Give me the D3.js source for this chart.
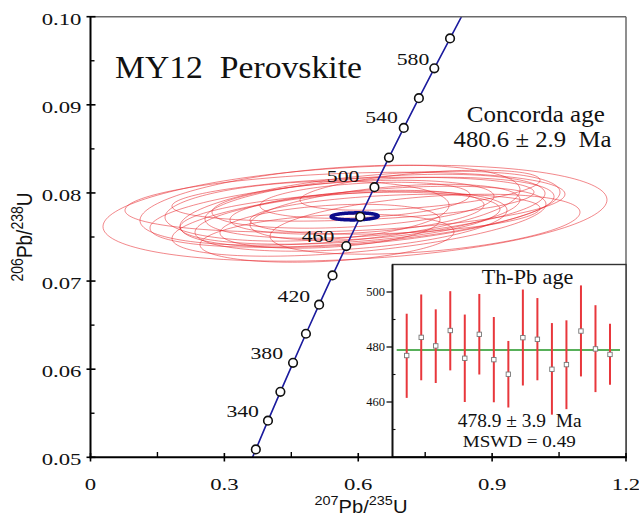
<!DOCTYPE html>
<html><head><meta charset="utf-8">
<script src="https://cdn.jsdelivr.net/npm/d3@7"></script>
<style>body{margin:0;background:#fff} text{white-space:pre}</style>
</head><body><svg id="c" width="639" height="515"></svg>
<script>
// ---------- data ----------
const xTicks = [0, 0.3, 0.6, 0.9, 1.2];
const xTickLabels = ["0", "0.3", "0.6", "0.9", "1.2"];
const xMinorTicks = [0.15, 0.45, 0.75, 1.05];
const yTicks = [0.05, 0.06, 0.07, 0.08, 0.09, 0.10];
const yTickLabels = ["0.05", "0.06", "0.07", "0.08", "0.09", "0.10"];
const yMinorTicks = [0.055, 0.065, 0.075, 0.085, 0.095];

// concordia curve (age in Ma, 207Pb/235U, 206Pb/238U)
const curveAges = [314.5, 320, 340, 360, 380, 400, 420, 440, 460, 480, 500, 520, 540, 560, 580, 600, 614.4];
const curveX = [0.3631, 0.3705, 0.3977, 0.4255, 0.4539, 0.4828, 0.5123, 0.5424, 0.5731, 0.6044, 0.6363, 0.6688, 0.7020, 0.7359, 0.7704, 0.8057, 0.8314];
const curveY = [0.0500, 0.05089, 0.05416, 0.05743, 0.06072, 0.06402, 0.06732, 0.07064, 0.07397, 0.07730, 0.08065, 0.08401, 0.08738, 0.09075, 0.09414, 0.09754, 0.1000];
const markerAges = [320, 340, 360, 380, 400, 420, 440, 460, 480, 500, 520, 540, 560, 580, 600];
const labelAges = [340, 380, 420, 460, 500, 540, 580];

// analysis error ellipses (centre, half-extent in x and y, correlation)
const ellCX = [0.5927, 0.5703, 0.5860, 0.6017, 0.5882, 0.6263, 0.5838, 0.5882, 0.5972, 0.6599, 0.4852, 0.6151, 0.7496, 0.5300, 0.7384, 0.5367, 0.5591, 0.6375, 0.5367, 0.6824];
const ellCY = [0.07770, 0.07895, 0.07781, 0.07679, 0.07929, 0.07815, 0.07679, 0.07872, 0.07781, 0.07781, 0.07793, 0.07917, 0.07645, 0.07486, 0.08031, 0.07861, 0.07713, 0.07849, 0.07622, 0.07759];
const ellSX = [0.5647, 0.4930, 0.4527, 0.4190, 0.4056, 0.4258, 0.3496, 0.3160, 0.2846, 0.3025, 0.3182, 0.2353, 0.3473, 0.2846, 0.2689, 0.4258, 0.3585, 0.3810, 0.2465, 0.3249];
const ellSY = [0.00544, 0.00340, 0.00397, 0.00397, 0.00249, 0.00431, 0.00340, 0.00272, 0.00249, 0.00317, 0.00340, 0.00204, 0.00340, 0.00272, 0.00227, 0.00454, 0.00295, 0.00363, 0.00249, 0.00227];
const ellRho = [0.28, 0.27, 0.45, 0.49, 0.32, 0.45, 0.37, 0.33, 0.34, 0.45, 0.20, 0.30, 0.40, 0.27, 0.50, 0.38, 0.35, 0.40, 0.30, 0.30];

// concordia age ellipse
const concAgeCX = [0.592];
const concAgeCY = [0.07734];
const concAgeSX = [0.0527];
const concAgeSY = [0.00040];
const concAgeRho = [0.1];

// Th-Pb ages (inset)
const thpbAge  = [476.9, 483.5, 480.4, 486.0, 475.9, 484.6, 475.4, 470.1, 483.4, 482.8, 471.9, 473.6, 485.8, 479.3, 477.3];
const thpbLow  = [461.5, 467.9, 466.9, 471.5, 460.0, 470.0, 459.9, 458.0, 466.0, 467.9, 455.4, 457.4, 469.3, 463.6, 466.3];
const thpbHigh = [492.1, 499.1, 493.7, 500.3, 491.8, 499.3, 490.9, 482.2, 500.9, 497.8, 488.7, 489.7, 502.4, 495.2, 488.5];
const thpbMean = 478.9;
const insetTicks = [460, 480, 500];
const insetMinor = [450, 470, 490];

// ---------- drawing ----------
const SERIF = "'Liberation Serif','Times New Roman',Times,serif";
const SANS = "'Liberation Sans',Arial,Helvetica,sans-serif";
const svg = d3.select('#c');
svg.append('rect').attr('width', 639).attr('height', 515).attr('fill', '#fff');

const x = d3.scaleLinear().domain([0, 1.2]).range([90.5, 626]);
const y = d3.scaleLinear().domain([0.05, 0.10]).range([457.3, 16.7]);

function addText(parent, str, px, py, o) {
  const t = parent.append('text').attr('x', 0).attr('y', 0)
    .attr('font-family', o.family || SERIF).attr('font-size', o.size)
    .attr('text-anchor', o.anchor || 'start').attr('fill', o.fill || '#111').text(str);
  let sx = o.sx || 1;
  if (o.width) sx = o.width / t.node().getComputedTextLength();
  t.attr('transform', `translate(${px},${py}) scale(${sx},1)`);
  return t;
}

svg.append('clipPath').attr('id', 'plotclip').append('rect')
  .attr('x', 90.5).attr('y', 16.7).attr('width', 626 - 90.5).attr('height', 457.3 - 16.7);
const plot = svg.append('g').attr('clip-path', 'url(#plotclip)');

function ellipsePts(cx, cy, sx, sy, rho) {
  const pts = [];
  const k = Math.sqrt(1 - rho * rho);
  for (let i = 0; i < 160; i++) {
    const t = i / 160 * 2 * Math.PI;
    pts.push([x(cx + sx * Math.cos(t)), y(cy + sy * (rho * Math.cos(t) + k * Math.sin(t)))]);
  }
  return pts;
}
const closed = d3.line().curve(d3.curveLinearClosed);

// red ellipses
ellCX.forEach((cx, i) => {
  plot.append('path').attr('d', closed(ellipsePts(cx, ellCY[i], ellSX[i], ellSY[i], ellRho[i])))
    .attr('fill', 'none').attr('stroke', '#e8262c').attr('stroke-opacity', 0.55).attr('stroke-width', 1);
});

// concordia age ellipse
plot.append('path').attr('d', closed(ellipsePts(concAgeCX[0], concAgeCY[0], concAgeSX[0], concAgeSY[0], concAgeRho[0])))
  .attr('fill', 'none').attr('stroke', '#0c0c8c').attr('stroke-width', 3.5);

// concordia line
const line = d3.line().x(d => x(d[0])).y(d => y(d[1])).curve(d3.curveMonotoneX);
plot.append('path').attr('d', line(curveX.map((v, i) => [v, curveY[i]])))
  .attr('fill', 'none').attr('stroke', '#1b1b9e').attr('stroke-width', 1.6);

// markers
markerAges.forEach(a => {
  const i = curveAges.indexOf(a);
  plot.append('circle').attr('cx', x(curveX[i])).attr('cy', y(curveY[i])).attr('r', 4.3)
    .attr('fill', '#fff').attr('stroke', '#111').attr('stroke-width', 1.6);
});

// age labels
const labelDx = {340: 9, 380: 10, 420: 9, 460: 12, 500: 15, 540: 6, 580: 5};
const labelDy = {340: 4, 380: 3.5, 420: 3, 460: 4.3, 500: 5.3, 540: 4.5, 580: 3.5};
labelAges.forEach(a => {
  const i = curveAges.indexOf(a);
  addText(svg, String(a), x(curveX[i]) - labelDx[a], y(curveY[i]) - labelDy[a], {size: 17.5, anchor: 'end', width: 32.6});
});

// titles
addText(svg, 'MY12  Perovskite', 115, 78, {size: 32, width: 247});
addText(svg, 'Concorda age', 535.8, 121.7, {size: 23.5, anchor: 'middle', width: 138});
addText(svg, '480.6 \u00b1 2.9  Ma', 532.5, 146.7, {size: 23.5, anchor: 'middle', width: 158});

// frame top/right
svg.append('line').attr('x1', 90.5).attr('x2', 626).attr('y1', 16.7).attr('y2', 16.7).attr('stroke', '#6a6a6a').attr('stroke-width', 1.5);
svg.append('line').attr('x1', 626).attr('x2', 626).attr('y1', 16.7).attr('y2', 457.3).attr('stroke', '#6a6a6a').attr('stroke-width', 1.5);

// ---------- inset ----------
const ix = d3.scaleLinear().domain([1, 15]).range([406.7, 610]);
const iy = d3.scaleLinear().domain([440, 510]).range([457, 264.5]);
const inset = svg.append('g');
inset.append('rect').attr('x', 392.5).attr('y', 264.5).attr('width', 626 - 392.5).attr('height', 457 - 264.5)
  .attr('fill', '#fff').attr('stroke', '#333').attr('stroke-width', 1.4);
inset.append('line').attr('x1', 392.5).attr('x2', 392.5).attr('y1', 264.5).attr('y2', 457.3).attr('stroke', '#111').attr('stroke-width', 1.8);
insetTicks.forEach((v, i) => {
  inset.append('line').attr('x1', 386.5).attr('x2', 392.5).attr('y1', iy(v)).attr('y2', iy(v)).attr('stroke', '#111').attr('stroke-width', 1.3);
  addText(inset, String(v), 385, iy(v) + 4.3, {size: 12.5, anchor: 'end'});
});
insetMinor.forEach(v => {
  inset.append('line').attr('x1', 392.5).attr('x2', 395.5).attr('y1', iy(v)).attr('y2', iy(v)).attr('stroke', '#111').attr('stroke-width', 1.1);
});
inset.append('line').attr('x1', 396.7).attr('x2', 620).attr('y1', iy(thpbMean)).attr('y2', iy(thpbMean))
  .attr('stroke', '#58b05a').attr('stroke-width', 2);
thpbAge.forEach((v, i) => {
  inset.append('line').attr('x1', ix(i + 1)).attr('x2', ix(i + 1)).attr('y1', iy(thpbLow[i])).attr('y2', iy(thpbHigh[i]))
    .attr('stroke', '#e8373c').attr('stroke-width', 2);
  inset.append('rect').attr('x', ix(i + 1) - 2.2).attr('y', iy(v) - 2.2).attr('width', 4.4).attr('height', 4.4)
    .attr('fill', '#fff').attr('stroke', '#777').attr('stroke-width', 0.9);
});
addText(inset, 'Th-Pb age', 527.5, 284.3, {size: 20, anchor: 'middle', width: 91.7});
addText(inset, '478.9 \u00b1 3.9  Ma', 519.7, 426.7, {size: 18.5, anchor: 'middle', width: 124});
addText(inset, 'MSWD = 0.49', 519.2, 446.7, {size: 17.7, anchor: 'middle', width: 113});

// ---------- axes ----------
const ax = svg.append('g');
ax.append('line').attr('x1', 90.5).attr('x2', 90.5).attr('y1', 16).attr('y2', 458.3).attr('stroke', '#000').attr('stroke-width', 2);
ax.append('line').attr('x1', 89.5).attr('x2', 627).attr('y1', 457.3).attr('y2', 457.3).attr('stroke', '#000').attr('stroke-width', 2);
yTicks.forEach((v, i) => {
  ax.append('line').attr('x1', 86.5).attr('x2', 95.5).attr('y1', y(v)).attr('y2', y(v)).attr('stroke', '#000').attr('stroke-width', 1.6);
  addText(ax, yTickLabels[i], 81.5, y(v) + 8, {size: 17.5, anchor: 'end', sx: 1.3});
});
yMinorTicks.forEach(v => {
  ax.append('line').attr('x1', 90.5).attr('x2', 94.5).attr('y1', y(v)).attr('y2', y(v)).attr('stroke', '#000').attr('stroke-width', 1.4);
});
xTicks.forEach((v, i) => {
  ax.append('line').attr('x1', x(v)).attr('x2', x(v)).attr('y1', 453).attr('y2', 461.5).attr('stroke', '#000').attr('stroke-width', 1.6);
  addText(ax, xTickLabels[i], x(v), 489.5, {size: 17.5, anchor: 'middle', sx: 1.3});
});
xMinorTicks.forEach(v => {
  ax.append('line').attr('x1', x(v)).attr('x2', x(v)).attr('y1', 452).attr('y2', 457.3).attr('stroke', '#000').attr('stroke-width', 1.4);
});

// axis titles
function axisTitle(parent, tA, tB, tC, tD, big, sup) {
  const t = parent.append('text').attr('font-family', SANS).attr('fill', '#111').attr('text-anchor', 'middle');
  t.append('tspan').attr('font-size', sup).attr('dy', -7.5).text(tA);
  t.append('tspan').attr('font-size', big).attr('dy', 7.5).text(tB);
  t.append('tspan').attr('font-size', sup).attr('dy', -7.5).text(tC);
  t.append('tspan').attr('font-size', big).attr('dy', 7.5).text(tD);
  return t;
}
const xt = axisTitle(svg, '207', 'Pb/', '235', 'U', 17.5, 12.5);
const xw = xt.node().getComputedTextLength();
xt.attr('transform', `translate(361,512.5) scale(${93 / xw},1)`);
const yt = axisTitle(svg, '206', 'Pb/', '238', 'U', 19, 14);
yt.attr('transform', 'translate(32,237) scale(1.18,1) rotate(-90)');
</script>
</body></html>
